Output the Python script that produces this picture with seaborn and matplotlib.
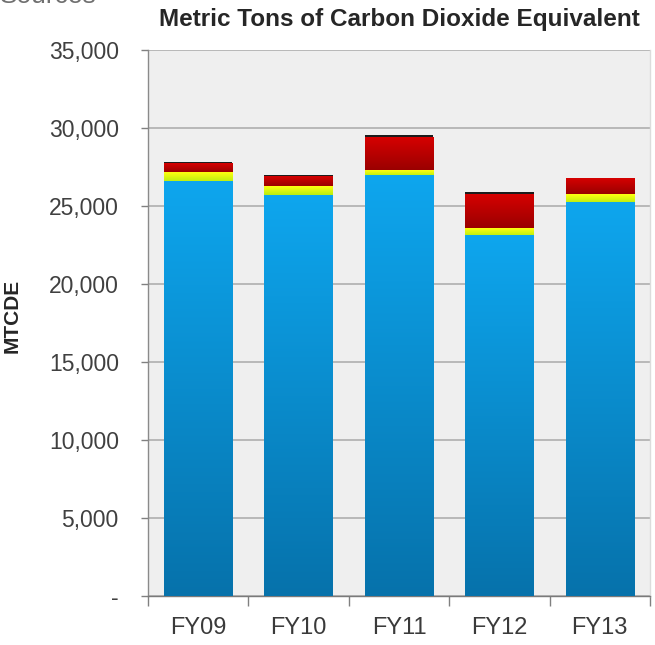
import numpy as np
import pandas as pd
import matplotlib
matplotlib.use("Agg")
import matplotlib.pyplot as plt
import seaborn as sns
from matplotlib.colors import LinearSegmentedColormap
from matplotlib.ticker import FuncFormatter, FixedLocator

# Emissions by fiscal year, stacked from the bottom up (MTCDE)
years = ["FY09", "FY10", "FY11", "FY12", "FY13"]
seg_blue = [26550, 25700, 26950, 23080, 25210]
seg_yellow = [600, 550, 370, 490, 560]
seg_red = [550, 580, 2070, 2155, 980]
seg_dark = [130, 150, 190, 150, 30]

sns.set_style("white")
plt.rcParams["font.family"] = ["Liberation Sans", "DejaVu Sans"]

fig = plt.figure(figsize=(6.55, 6.45), dpi=100)
ax = fig.add_axes([148 / 655, 1 - 596 / 645, 502 / 655, 546 / 645])
ax.set_facecolor("#efefef")

df = pd.DataFrame({"year": years, "blue": seg_blue, "yellow": seg_yellow,
                   "red": seg_red, "dark": seg_dark})
df["c1"] = df["blue"]
df["c2"] = df["c1"] + df["yellow"]
df["c3"] = df["c2"] + df["red"]
df["c4"] = df["c3"] + df["dark"]

layers = [
    # (top column, bottom column, base colour, gradient top, gradient bottom)
    ("c4", "c3", "#1c1c1c", None, None),
    ("c3", "c2", "#c00000", "#d60000", "#9a0000"),
    ("c2", "c1", "#f0f000", "#ffff10", "#b8ee10"),
    ("c1", None, "#0a90d0", "#0ea6ee", "#0672ab"),
]

W = 0.68
for top, bottom, base, g_top, g_bot in layers:
    n_before = len(ax.patches)
    sns.barplot(data=df, x="year", y=top, color=base, saturation=1,
                width=W, ax=ax, zorder=2, linewidth=0)
    new = ax.patches[n_before:]
    if g_top is None:
        continue
    cmap = LinearSegmentedColormap.from_list("g", [g_bot, g_top])
    grad = np.linspace(0, 1, 256).reshape(-1, 1)
    for i, p in enumerate(new):
        x0 = p.get_x()
        x1 = x0 + p.get_width()
        y1 = df[top].iloc[i]
        y0 = df[bottom].iloc[i] if bottom else 0
        ax.imshow(grad, cmap=cmap, origin="lower", aspect="auto",
                  extent=(x0, x1, y0, y1), zorder=3, interpolation="bilinear")

ax.set_xlim(-0.5, 4.5)
ax.set_ylim(0, 35000)
ax.set_yticks(np.arange(0, 35001, 5000))
ax.yaxis.set_major_formatter(FuncFormatter(lambda v, _: "-" if v == 0 else f"{v:,.0f}"))
ax.yaxis.grid(True, color="#a9a9a9", linewidth=1.1, zorder=1)
ax.set_axisbelow(True)

ax.xaxis.set_minor_locator(FixedLocator(np.arange(-0.5, 4.6, 1.0)))
ax.tick_params(axis="x", which="major", length=0, pad=15, labelsize=17,
               labelcolor="#3a3a3a")
ax.tick_params(axis="x", which="minor", length=7, width=1, color="#808080",
               direction="out")
ax.tick_params(axis="y", which="major", length=5, width=1, color="#808080",
               direction="out", pad=16, labelsize=16.5, labelcolor="#404040")
ax.tick_params(axis="both", which="both", bottom=True, left=True)

ax.spines["top"].set_visible(False)
ax.spines["left"].set_color("#8a8a8a")
ax.spines["bottom"].set_color("#7a7a7a")
ax.spines["right"].set_color("#dcdcdc")
for s in ["left", "bottom", "right"]:
    ax.spines[s].set_linewidth(1)

ax.set_xlabel("")
ax.set_ylabel("MTCDE", fontsize=15, fontweight="bold", color="#262626",
              labelpad=0)
ax.yaxis.set_label_coords(-(148 - 22) / 502, (596 - 316) / 546)

ax.set_title("Metric Tons of Carbon Dioxide Equivalent", fontsize=17.5,
             fontweight="bold", color="#262626", pad=0, y=1 + (50 - 26) / 546)

fig.text(0.0, 1 - 3 / 645, "Sources", fontsize=19, color="#707070",
         va="baseline", ha="left")

fig.savefig("out.png", dpi=100, facecolor="white")
